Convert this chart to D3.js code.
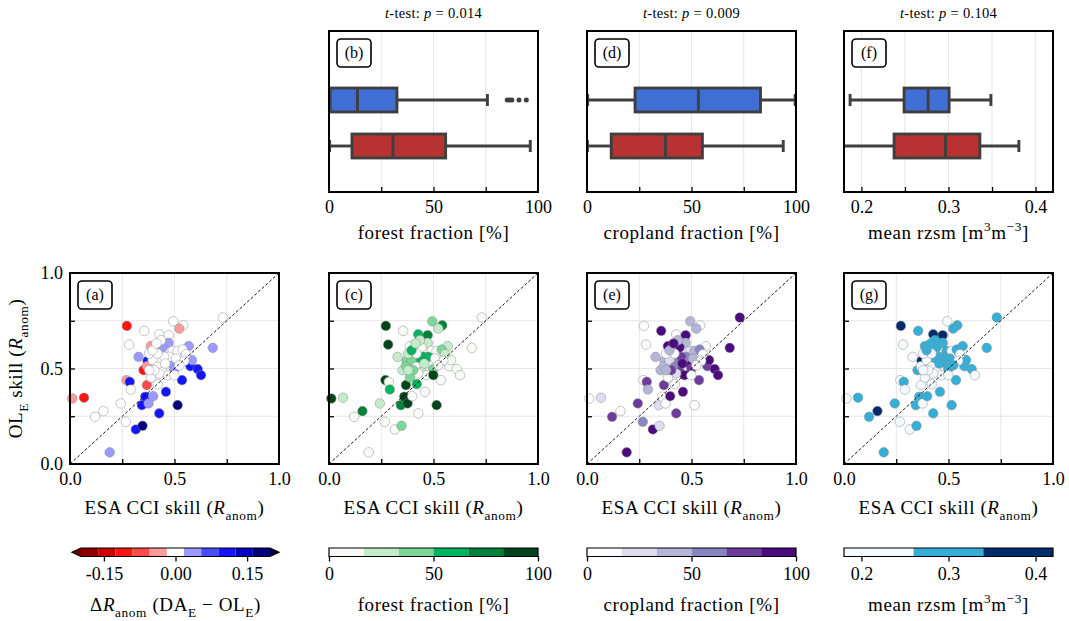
<!DOCTYPE html>
<html>
<head>
<meta charset="utf-8">
<script src="https://cdn.jsdelivr.net/npm/d3@7"></script>
<style>
  body { margin: 0; background: #fff; }
  text { font-family: "Liberation Serif", "DejaVu Serif", serif; }
</style>
</head>
<body>
<svg id="fig" width="1069" height="621"></svg>
<script>
// ---------------- data ----------------
// Per-site skill (anomaly correlation) of ESA CCI and the open-loop ensemble
const skillESA = [0.011,0.067,0.12,0.16,0.19,0.243,0.267,0.272,0.283,0.27,0.286,0.291,0.315,0.347,0.344,0.36,0.376,0.398,0.368,0.352,
  0.371,0.328,0.355,0.387,0.427,0.459,0.515,0.536,0.494,0.542,0.523,0.427,0.472,0.731,0.683,0.576,0.611,0.627,0.568,0.584,
  0.491,0.472,0.443,0.368,0.499,0.435,0.491,0.515,0.539,0.555,0.435,0.395,0.379,0.419,0.443,0.467,0.427,0.387,0.42,0.475,
  0.507,0.451,0.403,0.499,0.379,0.419,0.456,0.547,0.523,0.395,0.414];
const skillOL = [0.343,0.347,0.247,0.277,0.061,0.317,0.221,0.723,0.625,0.439,0.43,0.39,0.181,0.2,0.308,0.352,0.317,0.355,0.413,0.491,
  0.54,0.561,0.697,0.617,0.265,0.378,0.308,0.439,0.747,0.726,0.709,0.679,0.674,0.767,0.608,0.512,0.497,0.465,0.617,0.544,
  0.523,0.634,0.61,0.512,0.497,0.648,0.592,0.592,0.599,0.575,0.544,0.544,0.578,0.509,0.483,0.465,0.474,0.453,0.418,0.561,
  0.552,0.561,0.491,0.465,0.491,0.578,0.526,0.54,0.517,0.595,0.631];
// Skill change DA_E - OL_E
const deltaR = [-0.05,-0.11,0,0,0.04,0,0,-0.11,0,-0.05,0.1,0,0.1,0.18,0.1,0.1,0.04,0.04,-0.07,-0.11,
  0.1,0.04,0,-0.05,0.09,0.09,0.17,0.11,0,0,-0.04,0,0,0,0.04,0.1,0.11,0.11,0.04,0.04,
  0.04,0.04,0.04,-0.05,0.04,0,0,0,0,0,0,0,0,0,0,0,0,0,0,0,
  0,0,0,0,0,0,0,0,0,0,0];
// Land cover fractions [%] and mean root-zone soil moisture [m3/m3]
const forestFrac = [90,25,5,75,5,25,5,92,90,90,10,60,5,42,75,90,90,5,90,25,
  42,25,5,5,10,5,90,5,42,75,25,60,75,5,5,8,5,5,25,5,
  5,25,5,40,42,25,5,5,40,25,60,40,25,5,25,5,5,40,60,60,
  5,60,40,90,25,5,25,5,5,60,25];
const cropFrac = [5,25,75,5,92,75,58,5,3,5,75,42,92,25,25,5,10,92,75,42,
  42,42,92,92,75,92,5,75,42,5,42,5,92,92,92,75,92,92,5,92,
  92,42,92,42,75,42,25,42,58,5,58,25,5,58,75,92,25,5,5,58,
  42,75,75,5,42,5,92,5,5,42,92];
const meanRzsm = [0.22,0.30,0.30,0.37,0.30,0.30,0.22,0.37,0.22,0.23,0.30,0.24,0.22,0.30,0.30,0.30,0.24,0.30,0.22,0.30,
  0.37,0.22,0.30,0.30,0.30,0.30,0.30,0.30,0.22,0.30,0.30,0.37,0.37,0.30,0.30,0.30,0.30,0.24,0.30,0.30,
  0.30,0.30,0.30,0.24,0.30,0.30,0.30,0.22,0.30,0.22,0.30,0.22,0.22,0.22,0.22,0.22,0.22,0.22,0.22,0.30,
  0.30,0.30,0.22,0.22,0.22,0.22,0.30,0.22,0.30,0.30,0.30];

// Box plot summaries: [whisker low, Q1, median, Q3, whisker high]
const forestBoxImproved = [0, 0.5, 13.6, 32.5, 75.8];
const forestBoxDegraded = [0.3, 11, 30.6, 55.8, 96.3];
const forestOutliersImproved = [85.3, 86.4, 87.5, 90.9, 94.4];
const cropBoxImproved = [0.3, 23, 53.3, 83, 99.6];
const cropBoxDegraded = [0.2, 11.6, 37.5, 55.2, 93.9];
const rzsmBoxImproved = [0.187, 0.249, 0.2766, 0.3007, 0.3487];
const rzsmBoxDegraded = [0.172, 0.2375, 0.2966, 0.336, 0.3808];
const tTestP = ["0.014", "0.009", "0.104"];

// Tick labels
const skillTicks = [0, 0.5, 1];
const fracTicks = [0, 50, 100];
const rzsmTicks = [0.2, 0.3, 0.4];
const deltaTicks = [-0.15, 0, 0.15];

// ---------------- colour maps ----------------
const deltaColors = ['#8e0000','#cc0000','#ff1414','#ff4a4a','#ff9a9a','#ffffff','#9a9aff','#4a4aff','#1414ff','#0000c4','#00007a'];
const deltaEdges = d3.range(-0.198, 0.199, 0.036);          // 12 bin edges
const deltaScale = d3.scaleThreshold().domain(deltaEdges.slice(1, -1)).range(deltaColors);
const greens = ['#f6fcf5','#c3ecc9','#7ad897','#00b35c','#00823a','#00441b'];
const purples = ['#fcfbfd','#dedcee','#b5b5d9','#8985c0','#6c3b9b','#4b0a80'];
const blues = ['#f5faff','#35aed8','#002c6e'];
const forestScale = d3.scaleQuantize([0, 100], greens);
const cropScale = d3.scaleQuantize([0, 100], purples);
const rzsmScale = d3.scaleQuantize([0.18, 0.42], blues);

// ---------------- layout ----------------
const svg = d3.select('#fig');
const FONT = '"Liberation Serif", "DejaVu Serif", serif';
const TICK_FS = 18, LABEL_FS = 19, LABEL_LS = 0.6;
const PW = 209;
const colLeft = [70, 329, 587, 844];
const S_TOP = 273, S_BOTTOM = 464;
const B_TOP = 31, B_BOTTOM = 192;
const CB_TOP = 548, CB_H = 8.5;

function rich(textSel, parts, fs) {
  let shift = 0;
  parts.forEach(p => {
    const target = p.sub ? fs * 0.3 : p.sup ? -fs * 0.42 : 0;
    const ts = textSel.append('tspan').text(p.t).attr('dy', target - shift);
    shift = target;
    if (p.i) ts.attr('font-style', 'italic');
    if (p.sub || p.sup) ts.attr('font-size', fs * 0.7);
  });
}

function panelTag(g, x0, y0, tag) {
  g.append('rect').attr('x', x0 + 8).attr('y', y0 + 8).attr('width', 34).attr('height', 28)
    .attr('rx', 4).attr('fill', '#fff').attr('stroke', '#000').attr('stroke-width', 1.6);
  g.append('text').attr('x', x0 + 25).attr('y', y0 + 27).attr('text-anchor', 'middle')
    .attr('font-size', 16).text(tag);
}

function styleAxis(a) {
  a.attr('font-family', FONT).attr('font-size', TICK_FS);
  a.select('.domain').remove();
  a.selectAll('line').attr('stroke', '#000').attr('stroke-width', 1.3);
  a.selectAll('text').attr('fill', '#000');
}

function axisLabel(g, x, y, parts) {
  const t = g.append('text').attr('x', x).attr('y', y).attr('text-anchor', 'middle')
    .attr('font-size', LABEL_FS).attr('letter-spacing', LABEL_LS);
  rich(t, parts, LABEL_FS);
  return t;
}

// ---------------- scatter panels ----------------
const xLabelParts = [{t: 'ESA CCI skill ('}, {t: 'R', i: true}, {t: 'anom', sub: true}, {t: ')'}];
function scatterPanel(col, tag, colorOf, showY) {
  const left = colLeft[col];
  const x = d3.scaleLinear([0, 1], [left, left + PW]);
  const y = d3.scaleLinear([0, 1], [S_BOTTOM, S_TOP]);
  const g = svg.append('g');
  const gridVals = [0.25, 0.5, 0.75];
  g.selectAll('.gv').data(gridVals).join('line')
    .attr('x1', d => x(d)).attr('x2', d => x(d)).attr('y1', S_TOP).attr('y2', S_BOTTOM)
    .attr('stroke', '#e6e6e6').attr('stroke-width', 1);
  g.selectAll('.gh').data(gridVals).join('line')
    .attr('y1', d => y(d)).attr('y2', d => y(d)).attr('x1', left).attr('x2', left + PW)
    .attr('stroke', '#e6e6e6').attr('stroke-width', 1);

  g.append('g').selectAll('circle').data(d3.range(skillESA.length)).join('circle')
    .attr('cx', i => x(skillESA[i])).attr('cy', i => y(skillOL[i])).attr('r', 4.8)
    .attr('fill', i => colorOf(i)).attr('stroke', '#8c8c8c').attr('stroke-width', 0.5);

  g.append('line').attr('x1', x(0)).attr('y1', y(0)).attr('x2', x(1)).attr('y2', y(1))
    .attr('stroke', '#000').attr('stroke-width', 0.9).attr('stroke-dasharray', '3,2');

  // inward ticks
  styleAxis(g.append('g').attr('transform', `translate(0,${S_BOTTOM})`)
    .call(d3.axisBottom(x).tickValues(gridVals).tickSizeInner(-5).tickSizeOuter(0).tickFormat('')));
  styleAxis(g.append('g').attr('transform', `translate(${left},0)`)
    .call(d3.axisLeft(y).tickValues(gridVals).tickSizeInner(-5).tickSizeOuter(0).tickFormat('')));
  // tick labels
  styleAxis(g.append('g').attr('transform', `translate(0,${S_BOTTOM})`)
    .call(d3.axisBottom(x).tickValues(skillTicks).tickSize(0).tickPadding(8).tickFormat(d3.format('.1f'))));
  if (showY) {
    styleAxis(g.append('g').attr('transform', `translate(${left},0)`)
      .call(d3.axisLeft(y).tickValues(skillTicks).tickSize(0).tickPadding(7).tickFormat(d3.format('.1f'))));
  }
  g.append('rect').attr('x', left).attr('y', S_TOP).attr('width', PW).attr('height', S_BOTTOM - S_TOP)
    .attr('fill', 'none').attr('stroke', '#000').attr('stroke-width', 2);
  panelTag(g, left, S_TOP, tag);

  axisLabel(g, left + PW / 2, 514, xLabelParts);
}

scatterPanel(0, '(a)', i => deltaScale(deltaR[i]), true);
scatterPanel(1, '(c)', i => forestScale(forestFrac[i]), false);
scatterPanel(2, '(e)', i => cropScale(cropFrac[i]), false);
scatterPanel(3, '(g)', i => rzsmScale(meanRzsm[i]), false);

const yl = svg.append('text').attr('transform', `translate(22,${(S_TOP + S_BOTTOM) / 2}) rotate(-90)`)
  .attr('text-anchor', 'middle').attr('font-size', LABEL_FS).attr('letter-spacing', LABEL_LS);
rich(yl, [{t: 'OL'}, {t: 'E', sub: true}, {t: ' skill ('}, {t: 'R', i: true}, {t: 'anom', sub: true}, {t: ')'}], LABEL_FS);

// ---------------- box plot panels ----------------
const BLUE = '#3f6fd5', RED = '#b83232', EDGE = '#3f3f3f', BOX_LW = 2.9;
function boxPanel(col, tag, domain, gridVals, labelVals, fmt, improved, degraded, outliers, pval, labelParts) {
  const left = colLeft[col];
  const x = d3.scaleLinear(domain, [left, left + PW]);
  const y = d3.scaleLinear([-1.5, 2], [B_TOP, B_BOTTOM]);
  const g = svg.append('g');
  const clipId = 'clip' + col;
  g.append('clipPath').attr('id', clipId).append('rect')
    .attr('x', left).attr('y', B_TOP).attr('width', PW).attr('height', B_BOTTOM - B_TOP);

  g.selectAll('.gv').data(gridVals).join('line')
    .attr('x1', d => x(d)).attr('x2', d => x(d)).attr('y1', B_TOP).attr('y2', B_BOTTOM)
    .attr('stroke', '#e6e6e6').attr('stroke-width', 1);

  const body = g.append('g').attr('clip-path', `url(#${clipId})`);
  [[improved, 0, BLUE], [degraded, 1, RED]].forEach(([s, pos, fill]) => {
    const yc = y(pos), hb = y(pos + 0.26) - yc, hc = y(pos + 0.13) - yc;
    body.append('line').attr('x1', x(s[0])).attr('x2', x(s[1])).attr('y1', yc).attr('y2', yc)
      .attr('stroke', EDGE).attr('stroke-width', BOX_LW);
    body.append('line').attr('x1', x(s[3])).attr('x2', x(s[4])).attr('y1', yc).attr('y2', yc)
      .attr('stroke', EDGE).attr('stroke-width', BOX_LW);
    [s[0], s[4]].forEach(v => body.append('line').attr('x1', x(v)).attr('x2', x(v))
      .attr('y1', yc - hc).attr('y2', yc + hc).attr('stroke', EDGE).attr('stroke-width', BOX_LW));
    body.append('rect').attr('x', x(s[1])).attr('y', yc - hb).attr('width', x(s[3]) - x(s[1]))
      .attr('height', 2 * hb).attr('fill', fill).attr('stroke', EDGE).attr('stroke-width', BOX_LW);
    body.append('line').attr('x1', x(s[2])).attr('x2', x(s[2])).attr('y1', yc - hb).attr('y2', yc + hb)
      .attr('stroke', EDGE).attr('stroke-width', BOX_LW);
  });
  body.selectAll('.out').data(outliers).join('circle')
    .attr('cx', d => x(d)).attr('cy', y(0)).attr('r', 2.5).attr('fill', EDGE);

  styleAxis(g.append('g').attr('transform', `translate(0,${B_BOTTOM})`)
    .call(d3.axisBottom(x).tickValues(gridVals).tickSizeInner(-5).tickSizeOuter(0).tickFormat('')));
  styleAxis(g.append('g').attr('transform', `translate(0,${B_BOTTOM})`)
    .call(d3.axisBottom(x).tickValues(labelVals).tickSize(0).tickPadding(8).tickFormat(fmt)));

  g.append('rect').attr('x', left).attr('y', B_TOP).attr('width', PW).attr('height', B_BOTTOM - B_TOP)
    .attr('fill', 'none').attr('stroke', '#000').attr('stroke-width', 2);
  panelTag(g, left, B_TOP, tag);

  const title = g.append('text').attr('x', left + PW / 2).attr('y', 18).attr('text-anchor', 'middle')
    .attr('font-size', 14.5).attr('letter-spacing', 0.3);
  rich(title, [{t: 't', i: true}, {t: '-test: '}, {t: 'p', i: true}, {t: ' = ' + pval}], 14.5);

  axisLabel(g, left + PW / 2, 239, labelParts);
}

const forestLabel = [{t: 'forest fraction [%]'}];
const cropLabel = [{t: 'cropland fraction [%]'}];
const rzsmLabel = [{t: 'mean rzsm [m'}, {t: '3', sup: true}, {t: 'm'}, {t: '\u22123', sup: true}, {t: ']'}];

boxPanel(1, '(b)', [0, 100], [25, 50, 75], fracTicks, d3.format('d'),
  forestBoxImproved, forestBoxDegraded, forestOutliersImproved, tTestP[0], forestLabel);
boxPanel(2, '(d)', [0, 100], [25, 50, 75], fracTicks, d3.format('d'),
  cropBoxImproved, cropBoxDegraded, [], tTestP[1], cropLabel);
boxPanel(3, '(f)', [0.18, 0.42], [0.2, 0.25, 0.3, 0.35, 0.4], rzsmTicks, d3.format('.1f'),
  rzsmBoxImproved, rzsmBoxDegraded, [], tTestP[2], rzsmLabel);

// ---------------- colour bars ----------------
function colorbar(x, edges, colors, ticks, fmt, labelParts, ext) {
  const g = svg.append('g');
  for (let k = 0; k < colors.length; k++) {
    g.append('rect').attr('x', x(edges[k])).attr('y', CB_TOP)
      .attr('width', x(edges[k + 1]) - x(edges[k])).attr('height', CB_H).attr('fill', colors[k]);
  }
  const x0 = x(edges[0]), x1 = x(edges[edges.length - 1]);
  let outline = `M${x0},${CB_TOP}H${x1}V${CB_TOP + CB_H}H${x0}Z`;
  if (ext) {
    const ym = CB_TOP + CB_H / 2;
    g.append('path').attr('d', `M${x0},${CB_TOP}L${x0 - ext.len},${ym}L${x0},${CB_TOP + CB_H}Z`).attr('fill', ext.under);
    g.append('path').attr('d', `M${x1},${CB_TOP}L${x1 + ext.len},${ym}L${x1},${CB_TOP + CB_H}Z`).attr('fill', ext.over);
    outline = `M${x0},${CB_TOP}H${x1}L${x1 + ext.len},${ym}L${x1},${CB_TOP + CB_H}H${x0}L${x0 - ext.len},${ym}Z`;
  }
  g.append('path').attr('d', outline).attr('fill', 'none').attr('stroke', '#000').attr('stroke-width', 1.2);
  styleAxis(g.append('g').attr('transform', `translate(0,${CB_TOP + CB_H})`)
    .call(d3.axisBottom(x).tickValues(ticks).tickSizeInner(5).tickSizeOuter(0).tickPadding(6).tickFormat(fmt)));
  axisLabel(g, (x0 + x1) / 2, 611, labelParts);
}

const xDelta = d3.scaleLinear([-0.198, 0.198], [81, 270]);
colorbar(xDelta, deltaEdges, deltaColors, deltaTicks, d => d === 0 ? '0.00' : (d < 0 ? '-' : '') + d3.format('.2f')(Math.abs(d)),
  [{t: '\u0394'}, {t: 'R', i: true}, {t: 'anom', sub: true}, {t: ' (DA'}, {t: 'E', sub: true}, {t: ' \u2212 OL'}, {t: 'E', sub: true}, {t: ')'}],
  {len: 9, under: '#6e0000', over: '#00003c'});

const xForest = d3.scaleLinear([0, 100], [colLeft[1], colLeft[1] + PW]);
colorbar(xForest, d3.range(0, 100.1, 100 / 6), greens, fracTicks, d3.format('d'), forestLabel, null);
const xCrop = d3.scaleLinear([0, 100], [colLeft[2], colLeft[2] + PW]);
colorbar(xCrop, d3.range(0, 100.1, 100 / 6), purples, fracTicks, d3.format('d'), cropLabel, null);
const xRzsm = d3.scaleLinear([0.18, 0.42], [colLeft[3], colLeft[3] + PW]);
colorbar(xRzsm, [0.18, 0.26, 0.34, 0.42], blues, rzsmTicks, d3.format('.1f'), rzsmLabel, null);
</script>
</body>
</html>
